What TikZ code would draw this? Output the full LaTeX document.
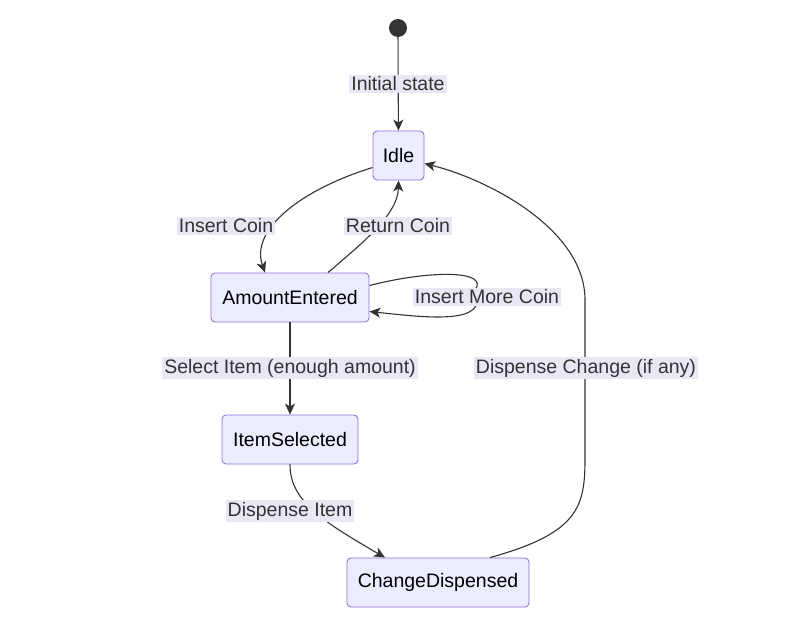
\documentclass[tikz,border=0pt]{standalone}
\usepackage{fontspec}
\setmainfont{Liberation Sans}
\usetikzlibrary{arrows.meta}
\definecolor{nfill}{HTML}{ECECFF}
\definecolor{nline}{HTML}{9370DB}
\definecolor{ink}{HTML}{333333}
\definecolor{lbl}{HTML}{E8E8F4}
\begin{document}
\begin{tikzpicture}[x=1pt,y=-1pt,
  st/.style={draw=nline,fill=nfill,rounded corners=4pt,line width=0.9pt,font=\fontsize{19.5}{22}\selectfont,text=black,inner sep=0pt},
  lb/.style={fill=lbl,font=\fontsize{19.5}{22}\selectfont,text=ink,inner sep=2pt},
  ed/.style={draw=ink,line width=1.1pt,-{Stealth[length=11pt,width=10pt,inset=3pt]}}]
\useasboundingbox[fill=white] (0,0) rectangle (797,636);
\node[circle,fill=ink,minimum size=18pt,inner sep=0pt] (s) at (398,28) {};
\node[st,minimum width=51pt,minimum height=49pt] (idle) at (398.5,155.5) {Idle};
\node[st,minimum width=158pt,minimum height=49pt] (ae) at (290,297.5) {AmountEntered};
\node[st,minimum width=136pt,minimum height=49pt] (is) at (290,439.5) {ItemSelected};
\node[st,minimum width=182pt,minimum height=49pt] (cd) at (438,582.5) {ChangeDispensed};

\draw[ed] (s) -- (idle);
\node[lb] (l1) at (398,84) {Initial state};

\draw[ed] ([yshift=-12pt]idle.west) .. controls (300,190) and (250,230) .. ([xshift=-25pt]ae.north);
\node[lb] (l2) at (226,226) {Insert Coin};

\draw[ed] ([xshift=38pt]ae.north) .. controls (360,245) and (398,215) .. (idle.south);
\node[lb] (l3) at (398,226) {Return Coin};

\draw[ed] ([yshift=12pt]ae.east) .. controls (430,270) and (490,270) .. (475,290)
  .. controls (490,325) and (430,318) .. ([yshift=-14pt]ae.east);
\node[lb] (l4) at (487,297) {Insert More Coin};

\draw[ed] (ae) -- (is);
\node[lb] (l5) at (290,368) {Select Item (enough amount)};

\draw[ed] (is.south) .. controls (290,500) and (320,520) .. ([xshift=-53pt]cd.north);
\node[lb] (l6) at (290,511) {Dispense Item};

\draw[ed] ([xshift=52pt]cd.north) .. controls (590,530) and (585,500) .. (585,440)
  -- (585,300) .. controls (585,230) and (490,180) .. ([yshift=-8pt]idle.east);
\node[lb] (l7) at (586,368) {Dispense Change (if any)};
\end{tikzpicture}
\end{document}
